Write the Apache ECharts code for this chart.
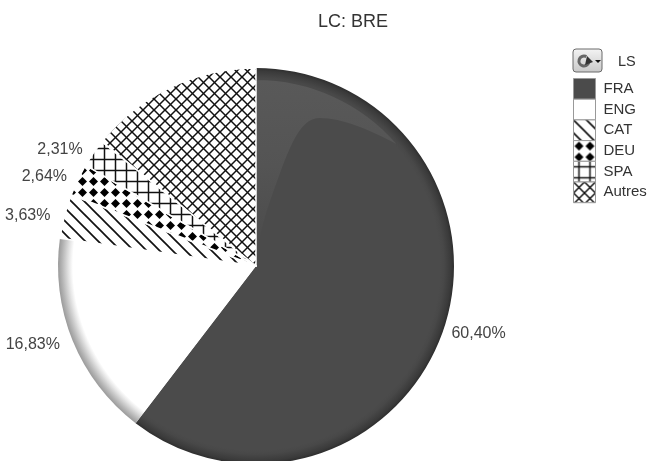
<!DOCTYPE html>
<html><head><meta charset="utf-8">
<style>html,body{margin:0;padding:0;background:#fff}#c{width:650px;height:461px}</style>
<script src="https://cdn.jsdelivr.net/npm/echarts@6/dist/echarts.min.js"></script>
</head><body><div id="c"></div>
<script>
const titleText = 'LC: BRE';
const listLabel = 'LS';
const categories = ['FRA','ENG','CAT','DEU','SPA','Autres'];
const shares = [60.40,16.83,3.63,2.64,2.31,14.19];
const labelled = [true,true,true,true,true,false];
const labelNudgeX = [-3,-2,-3,0,0,0];
const labelNudgeY = [3,3,0,-2,-2,0];

function tile(w,h,draw){
  const c=document.createElement('canvas');c.width=w;c.height=h;
  const x=c.getContext('2d');x.fillStyle='#fff';x.fillRect(0,0,w,h);
  x.strokeStyle='#111';x.fillStyle='#000';draw(x,w,h);return c;
}
const line=(x,a,b,c,d)=>{x.beginPath();x.moveTo(a,b);x.lineTo(c,d);x.stroke();};
const hatch=tile(13,13,(x,w,h)=>{x.lineWidth=1.7;line(x,-2,-2,15,15);line(x,-2,11,2,15);line(x,11,-2,15,2);});
const dots=tile(11,11,(x)=>{x.beginPath();x.moveTo(5.5,1);x.lineTo(10,5.5);x.lineTo(5.5,10);x.lineTo(1,5.5);x.closePath();x.fill();});
const grid=tile(11,11,(x)=>{x.lineWidth=1.5;line(x,5.5,0,5.5,11);line(x,0,5.5,11,5.5);});
const cross=tile(11,11,(x)=>{x.lineWidth=1.5;line(x,-1,-1,12,12);line(x,-1,12,12,-1);line(x,-1,10,1,12);line(x,10,-1,12,1);line(x,-1,1,1,-1);line(x,10,12,12,10);});

const cx=256,cy=266,R=198;
const radial=(stops)=>({type:'radial',x:cx,y:cy,r:R,global:true,colorStops:stops});
const fills=[
  radial([{offset:0,color:'#4b4b4b'},{offset:0.93,color:'#4b4b4b'},{offset:0.95,color:'#484848'},{offset:0.985,color:'#3a3a3a'},{offset:1,color:'#2e2e2e'}]),
  radial([{offset:0,color:'#ffffff'},{offset:0.925,color:'#ffffff'},{offset:0.945,color:'#e6e6e6'},{offset:0.98,color:'#b4b4b4'},{offset:1,color:'#9a9a9a'}]),
  {image:hatch,repeat:'repeat'},
  {image:dots,repeat:'repeat'},
  {image:grid,repeat:'repeat'},
  {image:cross,repeat:'repeat'}
];
const legendFills=['#4b4b4b','#ffffff',fills[2],fills[3],fills[4],fills[5]];
echarts.graphic.registerShape('gloss',echarts.graphic.extendShape({
  shape:{},
  buildPath(ctx){
    ctx.moveTo(257,80);
    ctx.arc(cx,cy,186,-Math.PI/2,Math.atan2(145-cy,395-cx));
    ctx.bezierCurveTo(370,130,342,118,320,118);
    ctx.bezierCurveTo(298,118,288,150,267,210);
    ctx.bezierCurveTo(262,226,259,240,257,252);
    ctx.closePath();
  }
}));
const chart=echarts.init(document.getElementById('c'),null,{renderer:'canvas'});
chart.setOption({
  animation:false,
  backgroundColor:'#fff',
  title:{text:titleText,left:348,top:8,textAlign:'center',textStyle:{fontFamily:'Liberation Sans',fontSize:18,fontWeight:'normal',color:'#333'}},
  legend:{
    orient:'vertical',left:573,top:78,itemWidth:22,itemHeight:20.7,itemGap:-1,icon:'rect',
    selectedMode:false,
    data:categories.map((n,i)=>({name:n,itemStyle:{color:legendFills[i],borderColor:'#999',borderWidth:1}})),
    textStyle:{fontFamily:'Liberation Sans',fontSize:15,color:'#333',padding:[0,0,0,3]},
    padding:0
  },
  series:[{
    type:'pie',center:[cx,cy],radius:R,startAngle:90,clockwise:true,z:2,silent:true,
    minAngle:0,avoidLabelOverlap:false,
    label:{show:true,position:'outside',fontFamily:'Liberation Sans',fontSize:16,color:'#444',
      formatter:p=>p.value.toFixed(2).replace('.',',')+'%'},
    labelLine:{show:false,length:2,length2:4},
    labelLayout:p=>({dx:labelNudgeX[p.dataIndex],dy:labelNudgeY[p.dataIndex]}),
    data:categories.map((n,i)=>({
      name:n,value:shares[i],
      itemStyle:{color:fills[i],borderColor:i<2?'transparent':'#fff',borderWidth:i<2?0:1.5},
      label:{show:labelled[i]}
    }))
  }],
  graphic:[
    {type:'gloss',z:5,silent:true,style:{fill:{type:'linear',x:0,y:0,x2:0,y2:1,colorStops:[{offset:0,color:'#595959'},{offset:0.5,color:'#545454'},{offset:1,color:'#4b4b4b'}]}}},
    {type:'rect',z:5,silent:true,shape:{x:573,y:49,width:29,height:23,r:3},
     style:{fill:{type:'linear',x:0,y:0,x2:0,y2:1,colorStops:[{offset:0,color:'#f4f4f4'},{offset:1,color:'#c8c8c8'}]},stroke:'#6a6a6a',lineWidth:1}},
    {type:'arc',z:6,silent:true,shape:{cx:584,cy:61,r:5,startAngle:0.3,endAngle:5.2,clockwise:true},style:{stroke:'#666',lineWidth:3,fill:'none'}},
    {type:'polygon',z:6,silent:true,shape:{points:[[587,56],[593,62],[585,65]]},style:{fill:'#333'}},
    {type:'polygon',z:6,silent:true,shape:{points:[[595,60],[601,60],[598,63]]},style:{fill:'#111'}},
    {type:'text',z:6,silent:true,x:618,y:54,style:{text:listLabel,fontFamily:'Liberation Sans',fontSize:14.5,fill:'#333'}}
  ]
});
</script></body></html>
